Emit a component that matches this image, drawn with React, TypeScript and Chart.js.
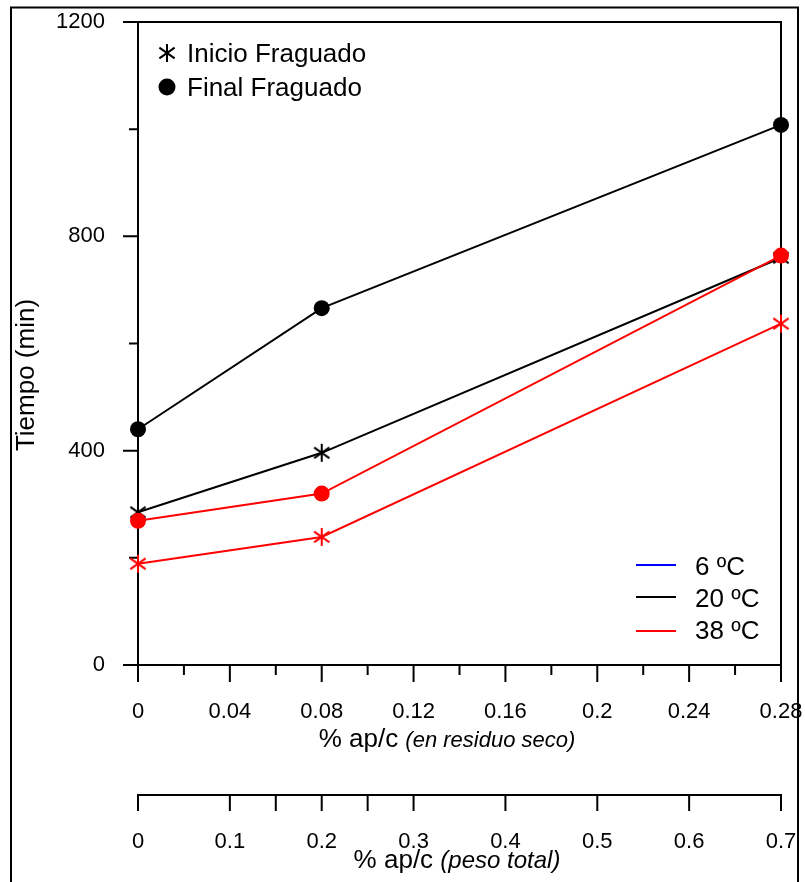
import React, { useEffect, useRef } from 'react';
import { Chart, registerables } from 'chart.js';

Chart.register(...registerables);

// ---- data ----
const xValues = [0, 0.08, 0.28];
const inicio20 = [285, 396, 760];
const final20 = [440, 666, 1008];
const inicio38 = [189, 239, 637];
const final38 = [269, 320, 764];

const xTicks = [0, 0.04, 0.08, 0.12, 0.16, 0.2, 0.24, 0.28];
const xMinorTicks = [0.02, 0.06, 0.1, 0.14, 0.18, 0.22, 0.26];
const x2Ticks = [0, 0.1, 0.2, 0.3, 0.4, 0.5, 0.6, 0.7];
const x2MinorTicks = [0.15, 0.25];
const yTicks = [0, 400, 800, 1200];
const yMinorTicks = [200, 600, 1000];

const tempLabels = ['6 ºC', '20 ºC', '38 ºC'];
const tempColors = ['#0000ff', '#000000', '#ff0000'];
const markerLabels = ['Inicio Fraguado', 'Final Fraguado'];
const yTitle = 'Tiempo (min)';
const xTitleMain = '% ap/c ';
const xTitleSub = '(en residuo seco)';
const x2TitleSub = '(peso total)';

const FONT = "'Liberation Sans', Arial, sans-serif";

function makeAsterisk(color: string, size = 20, lw = 2) {
  const c = document.createElement('canvas');
  c.width = size;
  c.height = size;
  const g = c.getContext('2d')!;
  g.strokeStyle = color;
  g.lineWidth = lw;
  const cx = size / 2, cy = size / 2, r = size / 2 - 1;
  g.beginPath();
  g.moveTo(cx, cy - r);
  g.lineTo(cx, cy + r);
  const dx = r * 0.85, dy = r * 0.6;
  g.moveTo(cx - dx, cy - dy);
  g.lineTo(cx + dx, cy + dy);
  g.moveTo(cx + dx, cy - dy);
  g.lineTo(cx - dx, cy + dy);
  g.stroke();
  return c;
}

const zeroPad = (s: any) => {
  s.paddingLeft = 0;
  s.paddingRight = 0;
  s.paddingTop = 0;
  s.paddingBottom = 0;
};

export default function App() {
  const ref = useRef<HTMLCanvasElement | null>(null);

  useEffect(() => {
    const canvas = ref.current!;
    const starBlack = makeAsterisk('#000000');
    const starRed = makeAsterisk('#ff0000');

    const mk = (vals: number[], color: string, style: any) => ({
      data: xValues.map((x, i) => ({ x, y: vals[i] })),
      borderColor: color,
      backgroundColor: color,
      borderWidth: 2,
      pointStyle: style,
      pointRadius: 8,
      pointBorderWidth: 0,
      pointBackgroundColor: color,
      pointBorderColor: color,
      xAxisID: 'x',
      yAxisID: 'y',
      tension: 0,
      clip: false,
    });

    const decor = {
      id: 'decor',
      beforeDatasetsDraw(chart: any) {
        const { ctx, chartArea: a, scales } = chart;
        const x = scales.x, y = scales.y, x2 = scales.x2;
        ctx.save();
        ctx.strokeStyle = '#000';
        ctx.lineWidth = 2;
        ctx.lineCap = 'butt';
        ctx.strokeRect(a.left, a.top, a.right - a.left, a.bottom - a.top);
        ctx.beginPath();
        yTicks.forEach((v) => {
          const p = y.getPixelForValue(v);
          ctx.moveTo(a.left - 15, p);
          ctx.lineTo(a.left, p);
        });
        yMinorTicks.forEach((v) => {
          const p = y.getPixelForValue(v);
          ctx.moveTo(a.left - 9, p);
          ctx.lineTo(a.left, p);
        });
        xTicks.forEach((v) => {
          const p = x.getPixelForValue(v);
          ctx.moveTo(p, a.bottom);
          ctx.lineTo(p, a.bottom + 17);
        });
        xMinorTicks.forEach((v) => {
          const p = x.getPixelForValue(v);
          ctx.moveTo(p, a.bottom);
          ctx.lineTo(p, a.bottom + 10);
        });
        const t2 = x2.top;
        ctx.moveTo(x2.getPixelForValue(0) - 1, t2);
        ctx.lineTo(x2.getPixelForValue(0.7) + 1, t2);
        [...x2Ticks, ...x2MinorTicks].forEach((v) => {
          const p = x2.getPixelForValue(v);
          ctx.moveTo(p, t2);
          ctx.lineTo(p, t2 + 16);
        });
        ctx.stroke();
        // outer frame
        ctx.strokeRect(11, 7.5, 787, 900);
        ctx.restore();
      },
      afterDraw(chart: any) {
        const { ctx } = chart;
        ctx.save();
        ctx.fillStyle = '#000';
        // y title
        ctx.save();
        ctx.translate(27, 375);
        ctx.rotate(-Math.PI / 2);
        ctx.font = `26px ${FONT}`;
        ctx.textAlign = 'center';
        ctx.textBaseline = 'middle';
        ctx.fillText(yTitle, 0, 0);
        ctx.restore();

        // x titles
        const drawTitle = (sub: string, subSize: number, cx: number, base: number) => {
          ctx.textAlign = 'left';
          ctx.textBaseline = 'alphabetic';
          ctx.font = `26px ${FONT}`;
          const w1 = ctx.measureText(xTitleMain).width;
          ctx.font = `italic ${subSize}px ${FONT}`;
          const w2 = ctx.measureText(sub).width;
          const start = cx - (w1 + w2) / 2;
          ctx.font = `26px ${FONT}`;
          ctx.fillText(xTitleMain, start, base);
          ctx.font = `italic ${subSize}px ${FONT}`;
          ctx.fillText(sub, start + w1, base);
        };
        drawTitle(xTitleSub, 22, 447, 747);
        drawTitle(x2TitleSub, 24, 457, 868);

        // marker legend
        ctx.drawImage(starBlack, 167 - starBlack.width / 2, 53 - starBlack.height / 2);
        ctx.beginPath();
        ctx.arc(167, 87, 8.5, 0, Math.PI * 2);
        ctx.fill();
        ctx.font = `26px ${FONT}`;
        ctx.textAlign = 'left';
        ctx.textBaseline = 'alphabetic';
        ctx.fillText(markerLabels[0], 187, 62);
        ctx.fillText(markerLabels[1], 187, 96);

        // temperature legend
        const ly = [565, 597, 631];
        const lb = [575, 607, 639];
        tempLabels.forEach((t, i) => {
          ctx.strokeStyle = tempColors[i];
          ctx.lineWidth = 2;
          ctx.beginPath();
          ctx.moveTo(636, ly[i]);
          ctx.lineTo(676, ly[i]);
          ctx.stroke();
          ctx.fillStyle = '#000';
          ctx.fillText(t, 695, lb[i]);
        });
        ctx.restore();
      },
    };

    const fmt = (v: number) => String(Number(Number(v).toFixed(2)));
    const tickFont = { family: FONT, size: 22 };

    const chart = new Chart(canvas, {
      type: 'line',
      data: {
        datasets: [
          mk(final38, '#ff0000', 'circle'),
          mk(inicio38, '#ff0000', starRed),
          mk(final20, '#000000', 'circle'),
          mk(inicio20, '#000000', starBlack),
        ] as any,
      },
      options: {
        animation: false,
        responsive: false,
        devicePixelRatio: 1,
        layout: { padding: { top: 22, right: 24, left: 0, bottom: 0 } },
        plugins: { legend: { display: false }, tooltip: { enabled: false } },
        scales: {
          x: {
            type: 'linear',
            position: 'bottom',
            weight: 0,
            min: 0,
            max: 0.28,
            grid: { display: false, drawTicks: false },
            border: { display: false },
            afterBuildTicks: (s: any) => { s.ticks = xTicks.map((v) => ({ value: v })); },
            afterFit: (s: any) => { s.height = 130; zeroPad(s); },
            ticks: { font: tickFont, color: '#000', padding: 34, maxRotation: 0, autoSkip: false, callback: (v: any) => fmt(v) },
          },
          x2: {
            type: 'linear',
            axis: 'x',
            position: 'bottom',
            weight: 1,
            min: 0,
            max: 0.7,
            grid: { display: false, drawTicks: false },
            border: { display: false },
            afterBuildTicks: (s: any) => { s.ticks = x2Ticks.map((v) => ({ value: v })); },
            afterFit: (s: any) => { s.height = 87; zeroPad(s); },
            ticks: { font: tickFont, color: '#000', padding: 34, maxRotation: 0, autoSkip: false, callback: (v: any) => fmt(v) },
          },
          y: {
            type: 'linear',
            position: 'left',
            min: 0,
            max: 1200,
            grid: { display: false, drawTicks: false },
            border: { display: false },
            afterBuildTicks: (s: any) => { s.ticks = yTicks.map((v) => ({ value: v })); },
            afterFit: (s: any) => { s.width = 138; zeroPad(s); },
            ticks: { font: tickFont, color: '#000', padding: 33, callback: (v: any) => String(v) },
          },
        } as any,
      },
      plugins: [decor],
    });
    return () => chart.destroy();
  }, []);

  return (
    <div style={{ position: 'absolute', left: 0, top: 0, width: 805, height: 882, background: '#fff' }}>
      <canvas ref={ref} width={805} height={882} style={{ display: 'block' }} />
    </div>
  );
}
